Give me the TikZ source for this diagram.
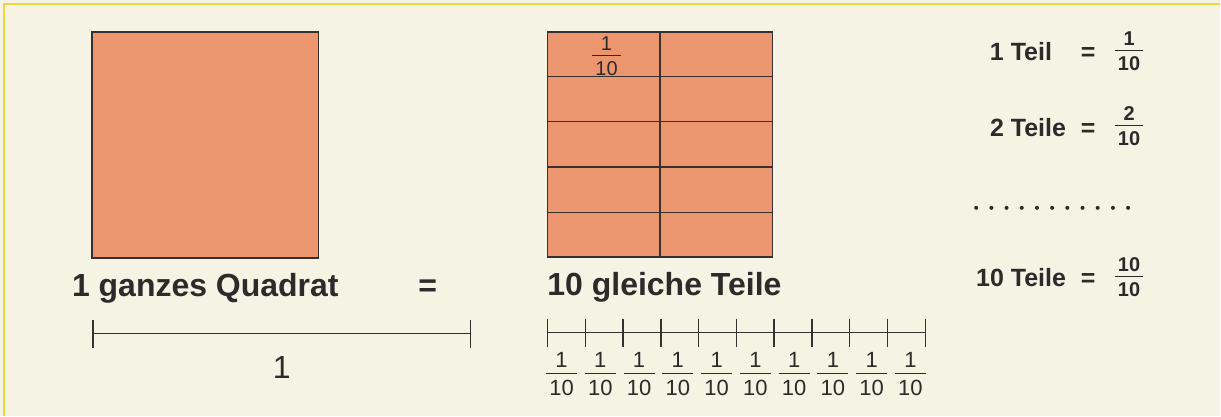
\documentclass[tikz,border=0pt]{standalone}
\usepackage{fontspec}
\setmainfont{Liberation Sans}
\usetikzlibrary{calc}
\definecolor{grund}{RGB}{245,243,228}
\definecolor{rand}{RGB}{242,212,70}
\definecolor{lachs}{RGB}{236,150,112}
\definecolor{strich}{RGB}{55,48,46}
\definecolor{schrift}{RGB}{45,42,42}
\setlength{\arrayrulewidth}{1.3pt}
\newcommand{\bruch}[2]{{%
	\renewcommand{\arraystretch}{0}%
	\begin{tabular}{@{\hspace{0.15em}}c@{\hspace{0.15em}}}
		\rule[-0.23em]{0pt}{0.95em}#1\\\hline
		\rule[-0.1em]{0pt}{1.08em}#2
	\end{tabular}}}

\begin{document}
\begin{tikzpicture}[
		x=1pt, y=-1pt,
		quad/.style={draw=strich, fill=lachs, line width=1.5pt, inner sep=0pt},
		linie/.style={draw=strich, line width=1.5pt},
		gross/.style={font=\fontsize{32}{38}\selectfont\bfseries, text=schrift, inner sep=0pt, anchor=base},
		zahl/.style={font=\fontsize{32}{38}\selectfont, text=schrift, inner sep=0pt},
		klein/.style={font=\fontsize{22}{26}\selectfont, text=schrift, inner sep=0pt},
		teil/.style={font=\fontsize{25}{30}\selectfont\bfseries, text=schrift, inner sep=0pt},
		tbruch/.style={font=\fontsize{20}{24}\selectfont\bfseries, text=schrift, inner sep=0pt}
		]
		
		% Hintergrund
		\fill[grund] (0,0) rectangle (1221,416);
		\draw[rand, line width=2pt] (4,416) -- (4,4) -- (1221,4);
		\useasboundingbox (0,0) rectangle (1221,416);
		
		% -------------------------
		% Quadrate
		% -------------------------
		\node[quad, minimum width=227pt, minimum height=226pt] (ganz) at (205.5,145) {};
		
		\node[quad, minimum width=225pt, minimum height=225pt] (zehntel) at (660.5,144.5) {};
		\draw[linie] (zehntel.north) -- (zehntel.south);
		\foreach \i in {1,...,4}
			\draw[linie] ($(zehntel.north west)!\i/5!(zehntel.south west)$) -- ($(zehntel.north east)!\i/5!(zehntel.south east)$);
		\node[klein, font=\fontsize{20}{24}\selectfont] (zb) at (607,57) {\bruch{1}{10}};
		
		% Beschriftung
		\node[gross] (tganz) at (205.5,297) {1 ganzes Quadrat};
		\node[gross] (gleich) at (428,297) {=};
		\node[gross] (tteile) at (665,296) {10 gleiche Teile};
		
		% -------------------------
		% Zahlenstrahlen
		% -------------------------
		\coordinate (a0) at (93,334);
		\coordinate (a1) at (471,334);
		\draw[linie] (a0) -- (a1);
		\draw[linie] ($(a0)+(0,-14)$) -- ++(0,28);
		\draw[linie] ($(a1)+(0,-14)$) -- ++(0,28);
		\node[zahl] (eins) at (282,368) {1};
		
		\coordinate (b0) at (548,333);
		\coordinate (b1) at (926,333);
		\draw[linie] (b0) -- (b1);
		\foreach \i in {0,...,10}
			\draw[linie] ($(b0)!\i/10!(b1)+(0,-14)$) -- ++(0,28);
		\foreach \i in {0,...,9}
			\node[klein] (f\i) at (562+38.8*\i,375) {\bruch{1}{10}};
		
		% -------------------------
		% Rechte Spalte
		% -------------------------
		\node[teil, anchor=base east] (t1) at (1053,61) {1 Teil};
		\node[teil, anchor=base] (g1) at (1089,61) {=};
		\node[tbruch] (r1) at (1130,52) {\bruch{1}{10}};
		
		\node[teil, anchor=base east] (t2) at (1067,137) {2 Teile};
		\node[teil, anchor=base] (g2) at (1089,137) {=};
		\node[tbruch] (r2) at (1130,127) {\bruch{2}{10}};
		
		\foreach \i in {0,...,10}
			\fill[schrift] (977+15.2*\i,208) circle (2pt);
		
		\node[teil, anchor=base east] (t3) at (1067,287) {10 Teile};
		\node[teil, anchor=base] (g3) at (1089,287) {=};
		\node[tbruch] (r3) at (1130,278) {\bruch{10}{10}};
		
	\end{tikzpicture}
\end{document}
